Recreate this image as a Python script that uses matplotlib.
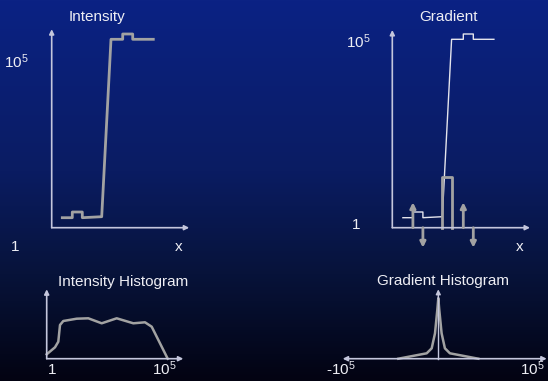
import numpy as np
import matplotlib
matplotlib.use('Agg')
from matplotlib import pyplot as plt
from matplotlib.colors import LinearSegmentedColormap

plt.rcParams['font.family'] = ['Liberation Sans', 'DejaVu Sans']
plt.rcParams['mathtext.fontset'] = 'custom'
plt.rcParams['mathtext.rm'] = 'Liberation Sans'
plt.rcParams['mathtext.it'] = 'Liberation Sans'

''' data (local units, read off the slide) '''
# intensity profile along x (step edge with small bumps)
int_x = [10.6, 20.6, 20.6, 30.6, 30.6, 50, 59.3, 71, 71, 81, 81, 101.6]
int_y = [10, 10, 15.7, 15.7, 10, 11, 188.4, 188.4, 193.7, 193.7, 188.4, 188.4]

# gradient: small spikes at bump edges (+/-) and one big bar at the edge
spike_x = [20.6, 30.6, 71, 81]
spike_y = [25.4, -20, 25.4, -20]
edge_x = [49.4, 49.4, 59.7, 59.7]
edge_y = [0, 51, 51, 0]

# intensity histogram
ih_x = [0, 8.3, 11.6, 13.3, 16.6, 30, 41.6, 55, 70, 86.6, 98.3, 105, 121]
ih_y = [4.4, 11.4, 17, 33.7, 37.7, 40, 40.4, 35.4, 40.4, 35.4, 36.4, 32, 0]

# gradient histogram (heavy-tailed, symmetric)
gh_x = [-40, -11.6, -6.6, -3.3, -1, 0, 1, 3.3, 6.6, 11.6, 40]
gh_y = [0, 5.4, 10.4, 25.4, 48.7, 60.4, 48.7, 25.4, 10.4, 5.4, 0]

W, H = 548, 381
fig = plt.figure(figsize=(W / 100, H / 100), dpi=100)

# background gradient
bg = fig.add_axes([0, 0, 1, 1])
cmap = LinearSegmentedColormap.from_list('slide', [(0, '#0b2284'), (0.45, '#0a1c62'),
                                                   (0.72, '#07133a'), (1.0, '#030312')])
bg.imshow(np.linspace(0, 1, 256).reshape(-1, 1), aspect='auto', cmap=cmap,
          extent=[0, W, H, 0])
bg.set_xlim(0, W)
bg.set_ylim(H, 0)
bg.axis('off')

axis_c = '#c4c6dc'
curve_c = '#a2a2a2'
text_c = '#eeeef4'


def panel(ox, oy, xmin, xmax, ymin, ymax):
  # axes whose data units are pixels measured from origin (ox, oy)
  ax = fig.add_axes([(ox + xmin) / W, (H - oy + ymin) / H, (xmax - xmin) / W, (ymax - ymin) / H])
  ax.set_xlim(xmin, xmax)
  ax.set_ylim(ymin, ymax)
  ax.axis('off')
  ax.patch.set_alpha(0)
  return ax


def arrow(ax, x0, y0, x1, y1, c=axis_c, lw=1.2, ms=7):
  ax.annotate('', xy=(x1, y1), xytext=(x0, y0),
              arrowprops=dict(arrowstyle='-|>', color=c, lw=lw, mutation_scale=ms,
                              shrinkA=0, shrinkB=0))


def txt(x, y, s, size=11, ha='center'):
  bg.text(x, y, s, color=text_c, fontsize=size, ha=ha, va='center')


# Intensity
ax1 = panel(51.7, 227.7, -5, 140, -5, 202)
arrow(ax1, 0, 0, 137.5, 0)
arrow(ax1, 0, 0, 0, 198.5)
ax1.plot(int_x, int_y, color=curve_c, lw=2)
txt(97, 17, 'Intensity')
txt(16, 62, r'$10^5$')
txt(15, 247, '1')
txt(179, 247, 'x')

# Gradient
ax2 = panel(392.3, 227.7, -5, 140, -25, 202)
arrow(ax2, 0, 0, 137.7, 0)
arrow(ax2, 0, 0, 0, 197.7)
ax2.plot(int_x, int_y, color='#e4e4ec', lw=1)
ax2.plot(edge_x, edge_y, color=curve_c, lw=2)
for sx, sy in zip(spike_x, spike_y):
  arrow(ax2, sx, 0, sx, sy, c=curve_c, lw=2, ms=8)
txt(448, 17, 'Gradient')
txt(358, 42, r'$10^5$')
txt(356, 225, '1')
txt(520, 247, 'x')

# Intensity Histogram
ax3 = panel(46.7, 358.7, -5, 140, -5, 72)
arrow(ax3, 0, 0, 136.6, 0)
arrow(ax3, 0, 0, 0, 69.4)
ax3.plot(ih_x, ih_y, color=curve_c, lw=1.8)
txt(123, 282, 'Intensity Histogram')
txt(51.7, 369.5, '1')
txt(164, 369, r'$10^5$')

# Gradient Histogram
ax4 = panel(438.3, 358.7, -100, 112, -5, 72)
arrow(ax4, 0, 0, -95.6, 0)
arrow(ax4, 0, 0, 108.4, 0)
ax4.plot(gh_x, gh_y, color=curve_c, lw=1.8)
ax4.plot([0, 0], [0, 62], color=axis_c, lw=1)
arrow(ax4, 0, 60, 0, 69.4, lw=1)
txt(443, 281, 'Gradient Histogram')
txt(341, 369, r'-$10^5$')
txt(532, 369, r'$10^5$')

fig.savefig('out.png', dpi=100)
